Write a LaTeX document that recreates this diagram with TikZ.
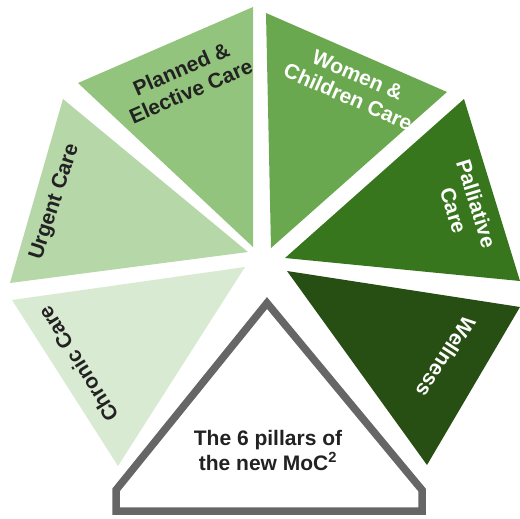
\documentclass[tikz,border=0pt]{standalone}
\usepackage{fontspec}
\setmainfont{Liberation Sans}
\definecolor{gPlanned}{HTML}{93C47D}
\definecolor{gUrgent}{HTML}{B6D7A8}
\definecolor{gChronic}{HTML}{D9EAD3}
\definecolor{gWomen}{HTML}{6AA84F}
\definecolor{gPall}{HTML}{38761D}
\definecolor{gWell}{HTML}{274E13}
\definecolor{txtdark}{HTML}{222222}
\definecolor{outline}{HTML}{666666}
\begin{document}
\begin{tikzpicture}[x=1pt,y=-1pt,
  lbl/.style={font=\bfseries\fontsize{21}{24}\selectfont,align=center,inner sep=0pt},
  darklbl/.style={lbl,text=txtdark},
  lightlbl/.style={lbl,text=white}]
\useasboundingbox (0,0) rectangle (520,519);
% segments
\fill[gPlanned] (78,83) -- (253,7) -- (253,247) -- cycle;
\fill[gWomen] (266,13) -- (447,92) -- (271,248) -- cycle;
\fill[gPall] (464,99) -- (520,281) -- (285,258) -- cycle;
\fill[gWell] (287,271) -- (520,307) -- (427,465) -- cycle;
\fill[gChronic] (12,300) -- (245,267) -- (118,466) -- cycle;
\fill[gUrgent] (63,99) -- (248,252) -- (10,283) -- cycle;
% centre shape
\draw[outline,line width=7.5pt,miter limit=10,fill=white]
  (267,303) -- (422,490) -- (422,511) -- (116,511) -- (116,490) -- cycle;
% labels
\node[darklbl,rotate=23.5] (planned) at (186,80) {Planned \&\\Elective Care};
\node[lightlbl,rotate=-23.6] (women) at (353,86) {Women \&\\Children Care};
\node[lightlbl,rotate=-73] (pall) at (465,207) {Palliative\\Care};
\node[darklbl,rotate=72] (urgent) at (55,202) {Urgent Care};
\node[darklbl,rotate=122] (chronic) at (78,364) {Chronic Care};
\node[lightlbl,rotate=237] (well) at (446,357) {Wellness};
\node[darklbl,font=\bfseries\fontsize{21}{25}\selectfont] (pillars) at (268,450) {The 6 pillars of\\the new MoC\textsuperscript{2}};
\end{tikzpicture}
\end{document}
